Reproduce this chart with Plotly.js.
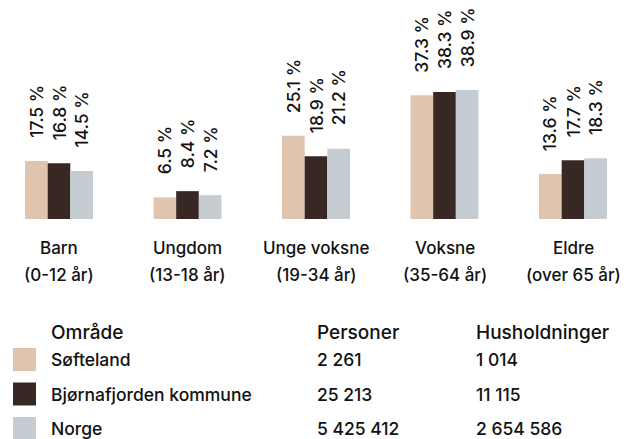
<!DOCTYPE html>
<html>
<head>
<meta charset="utf-8">
<script src="https://cdn.plot.ly/plotly-3.0.1.min.js"></script>
<style>html,body{margin:0;padding:0;background:#fff;}#chart{width:636px;height:439px;}</style>
</head>
<body>
<div id="chart"></div>
<script>
// ---- data ----
const categories = ['Barn', 'Ungdom', 'Unge voksne', 'Voksne', 'Eldre'];
const ageRanges = ['(0-12 år)', '(13-18 år)', '(19-34 år)', '(35-64 år)', '(over 65 år)'];
const seriesNames = ['Søfteland', 'Bjørnafjorden kommune', 'Norge'];
const softeland = [17.5, 6.5, 25.1, 37.3, 13.6];
const bjornafjorden = [16.8, 8.4, 18.9, 38.3, 17.7];
const norge = [14.5, 7.2, 21.2, 38.9, 18.3];
const tableHeaders = ['Område', 'Personer', 'Husholdninger'];
const personer = ['2 261', '25 213', '5 425 412'];
const husholdninger = ['1 014', '11 115', '2 654 586'];

// ---- styling ----
const colors = ['#dfc4b0', '#372824', '#c5cdd2'];
const textColor = '#111111';
const fontFamily = 'Inter, "Noto Sans", sans-serif';
const fw = 500;
const W = 636, H = 439, plotH = 219;
const bargap = 0.471;
const seriesValues = [softeland, bjornafjorden, norge];

const traces = seriesValues.map((vals, j) => ({
  type: 'bar',
  name: seriesNames[j],
  x: categories,
  y: vals,
  marker: { color: colors[j], line: { width: 0 } },
  hoverinfo: 'skip'
}));

const annotations = [];
const barW = (1 - bargap) / seriesValues.length;
seriesValues.forEach((vals, j) => {
  vals.forEach((v, i) => {
    annotations.push({
      x: i + (j - (seriesValues.length - 1) / 2) * barW,
      y: v, xref: 'x', yref: 'y',
      text: v.toFixed(1) + ' %',
      textangle: -90, showarrow: false,
      xanchor: 'center', yanchor: 'bottom', yshift: 21,
      font: { size: 17.5, color: textColor, family: fontFamily, weight: fw }
    });
  });
});
categories.forEach((c, i) => {
  annotations.push({ x: i, y: 0, xref: 'x', yref: 'paper', text: c, showarrow: false,
    xanchor: 'center', yanchor: 'middle', yshift: -29,
    font: { size: 17, color: textColor, family: fontFamily, weight: fw } });
  annotations.push({ x: i, y: 0, xref: 'x', yref: 'paper', text: ageRanges[i], showarrow: false,
    xanchor: 'center', yanchor: 'middle', yshift: -56,
    font: { size: 17, color: textColor, family: fontFamily, weight: fw } });
});

// table-like legend
const px = v => v / W;
const py = v => (plotH - v) / plotH;
const colX = [49, 315, 474];
const headerY = 333;
const rowY = [359.5, 394, 428.5];
tableHeaders.forEach((h, k) => {
  annotations.push({ x: px(colX[k]), y: py(headerY), xref: 'paper', yref: 'paper', text: h,
    showarrow: false, xanchor: 'left', yanchor: 'middle',
    font: { size: 19, color: textColor, family: fontFamily, weight: fw } });
});
const shapes = [];
seriesNames.forEach((n, r) => {
  const cols = [n, personer[r], husholdninger[r]];
  cols.forEach((t, k) => {
    annotations.push({ x: px(colX[k]), y: py(rowY[r]), xref: 'paper', yref: 'paper', text: t,
      showarrow: false, xanchor: 'left', yanchor: 'middle',
      font: { size: 17.5, color: textColor, family: fontFamily, weight: fw } });
  });
  shapes.push({ type: 'rect', xref: 'paper', yref: 'paper',
    x0: px(13), x1: px(36), y0: py(rowY[r] - 11.5), y1: py(rowY[r] + 11.5),
    fillcolor: colors[r], line: { width: 0 } });
});

const layout = {
  width: W, height: H,
  margin: { l: 0, r: 0, t: 0, b: H - plotH, pad: 0 },
  paper_bgcolor: '#ffffff', plot_bgcolor: '#ffffff',
  barmode: 'group', bargap: bargap, bargroupgap: 0,
  showlegend: false,
  font: { family: fontFamily, size: 17, color: textColor },
  xaxis: { type: 'category', range: [-0.4591, 4.4903], showticklabels: false, showgrid: false,
    zeroline: false, showline: false, ticks: '', fixedrange: true },
  yaxis: { range: [0, 66.06], visible: false, showgrid: false, zeroline: false, fixedrange: true },
  annotations: annotations,
  shapes: shapes
};

Plotly.newPlot('chart', traces, layout, { displayModeBar: false, staticPlot: true });
</script>
</body>
</html>
